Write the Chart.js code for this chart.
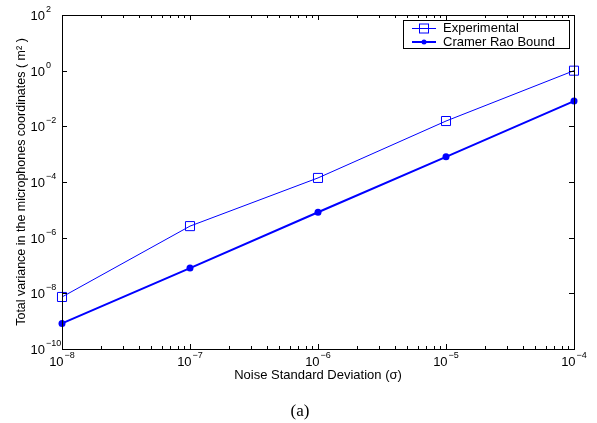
<!DOCTYPE html>
<html>
<head>
<meta charset="utf-8">
<script src="https://cdn.jsdelivr.net/npm/chart.js@4.4.0/dist/chart.umd.min.js"></script>
<style>
  html, body { margin: 0; padding: 0; background: #fff; }
  #wrap { position: relative; width: 597px; height: 423px; overflow: hidden; }
  #caption { position: absolute; left: 0; width: 600px; top: 402px; line-height: 18px; text-align: center;
             font-family: "Liberation Serif", "Times New Roman", serif; font-size: 17px; color: #000; }
</style>
</head>
<body>
<div id="wrap">
  <canvas id="c" width="597" height="423"></canvas>
  <div id="caption">(a)</div>
</div>
<script>
const sigma = [1e-8, 1e-7, 1e-6, 1e-5, 1e-4];
const experimental = [7.4e-9, 2.6e-6, 1.4e-4, 1.55e-2, 1.0];
const cramerRao = [8.3e-10, 8.1e-8, 8.2e-6, 8.0e-4, 8.1e-2];
const seriesNames = ['Experimental', 'Cramer Rao Bound'];
const xDecades = [-8, -7, -6, -5, -4];
const yDecades = [-10, -8, -6, -4, -2, 0, 2];

const FONT = '"Liberation Sans", Arial, Helvetica, sans-serif';
const BLUE = '#0000ff';

function toPoints(ys) {
  return sigma.map((s, i) => ({ x: s, y: ys[i] }));
}

// "10" with a raised exponent, MATLAB style
function drawPow(ctx, exp, x, y, align) {
  const sup = exp < 0 ? '\u2212' + (-exp) : String(exp);
  ctx.font = '13px ' + FONT;
  const wb = ctx.measureText('10').width;
  ctx.font = '9px ' + FONT;
  const ws = ctx.measureText(sup).width;
  const x0 = align === 'center' ? x - (wb + ws + 1) / 2 : x - wb;
  ctx.font = '13px ' + FONT;
  ctx.fillText('10', x0, y);
  ctx.font = '9px ' + FONT;
  ctx.fillText(sup, x0 + wb + 1, y - 8);
}

const frame = {
  id: 'frame',
  afterDraw(chart) {
    const ctx = chart.ctx;
    const a = chart.chartArea;
    const xs = chart.scales.x, ys = chart.scales.y;
    ctx.save();
    ctx.strokeStyle = '#000';
    ctx.fillStyle = '#000';
    ctx.lineWidth = 1;
    ctx.strokeRect(a.left + 0.5, a.top + 0.5, a.right - a.left, a.bottom - a.top);

    // x ticks (major + minor), bottom and top
    ctx.beginPath();
    xDecades.forEach((d, i) => {
      const mults = i === xDecades.length - 1 ? [1] : [1, 2, 3, 4, 5, 6, 7, 8, 9];
      mults.forEach(m => {
        const px = Math.round(xs.getPixelForValue(m * Math.pow(10, d))) + 0.5;
        const len = m === 1 ? 5 : 3;
        ctx.moveTo(px, a.bottom); ctx.lineTo(px, a.bottom - len);
        ctx.moveTo(px, a.top); ctx.lineTo(px, a.top + len);
      });
    });
    // y ticks, left and right
    yDecades.forEach(d => {
      const py = Math.round(ys.getPixelForValue(Math.pow(10, d))) + 0.5;
      ctx.moveTo(a.left, py); ctx.lineTo(a.left + 5, py);
      ctx.moveTo(a.right, py); ctx.lineTo(a.right - 5, py);
    });
    ctx.stroke();

    // tick labels
    ctx.textAlign = 'left';
    ctx.textBaseline = 'alphabetic';
    xDecades.forEach(d => {
      drawPow(ctx, d, xs.getPixelForValue(Math.pow(10, d)), a.bottom + 17, 'center');
    });
    yDecades.forEach(d => {
      drawPow(ctx, d, a.left - 17, ys.getPixelForValue(Math.pow(10, d)) + 5, 'right');
    });

    // legend
    const lx = 403, ly = 20, lw = 166, lh = 28;
    ctx.fillStyle = '#fff';
    ctx.fillRect(lx, ly, lw, lh);
    ctx.strokeStyle = '#000';
    ctx.strokeRect(lx + 0.5, ly + 0.5, lw, lh);
    ctx.strokeStyle = BLUE;
    ctx.fillStyle = BLUE;
    ctx.lineWidth = 1;
    ctx.beginPath(); ctx.moveTo(412, 28.5); ctx.lineTo(436, 28.5); ctx.stroke();
    ctx.strokeRect(419.5, 24, 9, 9);
    ctx.lineWidth = 2;
    ctx.beginPath(); ctx.moveTo(412, 42); ctx.lineTo(436, 42); ctx.stroke();
    ctx.beginPath(); ctx.arc(424, 42, 2.5, 0, Math.PI * 2); ctx.fill();
    ctx.fillStyle = '#000';
    ctx.font = '13px ' + FONT;
    ctx.textBaseline = 'middle';
    ctx.fillText(seriesNames[0], 443, 28);
    ctx.fillText(seriesNames[1], 443, 42);
    ctx.restore();
  }
};

new Chart(document.getElementById('c').getContext('2d'), {
  type: 'line',
  data: {
    datasets: [
      {
        label: seriesNames[0],
        data: toPoints(experimental),
        borderColor: BLUE,
        borderWidth: 1,
        pointStyle: 'rect',
        pointRadius: 6.4,
        pointBorderWidth: 1,
        pointBorderColor: BLUE,
        pointBackgroundColor: 'rgba(0,0,0,0)',
        clip: false
      },
      {
        label: seriesNames[1],
        data: toPoints(cramerRao),
        borderColor: BLUE,
        borderWidth: 2,
        pointStyle: 'circle',
        pointRadius: 3.5,
        pointBorderWidth: 0,
        pointBackgroundColor: BLUE,
        clip: false
      }
    ]
  },
  options: {
    responsive: false,
    animation: false,
    layout: { padding: { top: 15, right: 23, left: 0, bottom: 0 } },
    plugins: { legend: { display: false }, tooltip: { enabled: false } },
    scales: {
      x: {
        type: 'logarithmic',
        min: 1e-8,
        max: 1e-4,
        grid: { display: false },
        border: { display: false },
        ticks: { display: false },
        title: {
          display: true,
          text: 'Noise Standard Deviation (\u03c3)',
          color: '#000',
          font: { family: FONT, size: 13 },
          padding: { top: 0, bottom: 40 }
        },
        afterFit(scale) { scale.height = 74; }
      },
      y: {
        type: 'logarithmic',
        min: 1e-10,
        max: 1e2,
        grid: { display: false },
        border: { display: false },
        ticks: { display: false },
        title: {
          display: true,
          text: 'Total variance in the microphones coordinates ( m\u00b2 )',
          color: '#000',
          font: { family: FONT, size: 12.5 },
          padding: { top: 14, bottom: 0 }
        },
        afterFit(scale) { scale.width = 62; }
      }
    }
  },
  plugins: [frame]
});
</script>
</body>
</html>
